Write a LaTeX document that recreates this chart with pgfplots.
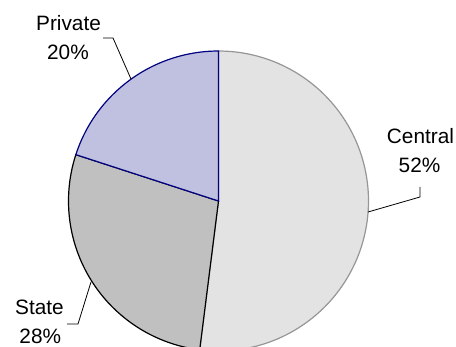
\documentclass[border=0pt]{standalone}
\usepackage{pgfplots}
\pgfplotsset{compat=1.18}
\usepackage{pgfplotstable}
\usepgfplotslibrary{polar}
\usepackage{fontspec}
\setmainfont{Liberation Sans}
\definecolor{cenfill}{RGB}{227,227,227}
\definecolor{cendraw}{RGB}{150,150,150}
\definecolor{stafill}{RGB}{192,192,192}
\definecolor{prifill}{RGB}{192,192,224}
\definecolor{pridraw}{RGB}{0,0,128}
\pgfplotstableread{
sector share
Central 52
State 28
Private 20
}\piedata
\begin{document}
\begin{tikzpicture}
\pgfplotstablegetelem{0}{share}\of\piedata\let\sA\pgfplotsretval
\pgfplotstablegetelem{1}{share}\of\piedata\let\sB\pgfplotsretval
\pgfplotstablegetelem{2}{share}\of\piedata\let\sC\pgfplotsretval
\pgfmathsetmacro\aA{90-3.6*\sA}
\pgfmathsetmacro\aB{\aA-3.6*\sB}
\pgfmathsetmacro\aC{\aB-3.6*\sC}
\begin{polaraxis}[
  hide axis, scale only axis,
  width=300bp, height=300bp,
  xmin=0, xmax=360, ymin=0, ymax=1,
  at={(218.5bp,146bp)}, anchor=center,
  clip=false
]
\addplot[fill=cenfill, draw=cendraw, line width=1.2bp, domain=\aA:90, samples=120] {1} -- (axis cs:0,0) -- cycle;
\addplot[fill=stafill, draw=black, line width=1.2bp, domain=\aB:\aA, samples=80] {1} -- (axis cs:0,0) -- cycle;
\addplot[fill=prifill, draw=pridraw, line width=1.2bp, domain=\aC:\aB, samples=60] {1} -- (axis cs:0,0) -- cycle;
\end{polaraxis}
\begin{scope}[every node/.style={font=\fontsize{20.8bp}{25bp}\selectfont, anchor=base, inner sep=0pt}]
\node at (68.5bp,316.3bp) {Private};
\node at (68bp,287.7bp) {20\%};
\node at (420.5bp,203.7bp) {Central};
\node at (419.5bp,174.7bp) {52\%};
\node at (39.5bp,33bp) {State};
\node at (40.3bp,3.5bp) {28\%};
\end{scope}
\draw[line width=0.8bp] (103bp,309bp) -- (113bp,309bp) -- (131bp,268bp);
\draw[line width=0.8bp] (420bp,160bp) -- (420bp,150bp) -- (368bp,135bp);
\draw[line width=0.8bp] (67bp,23bp) -- (78bp,23bp) -- (91bp,65bp);
\pgfresetboundingbox
\path[use as bounding box] (0,0) rectangle (456bp,347bp);
\end{tikzpicture}
\end{document}
